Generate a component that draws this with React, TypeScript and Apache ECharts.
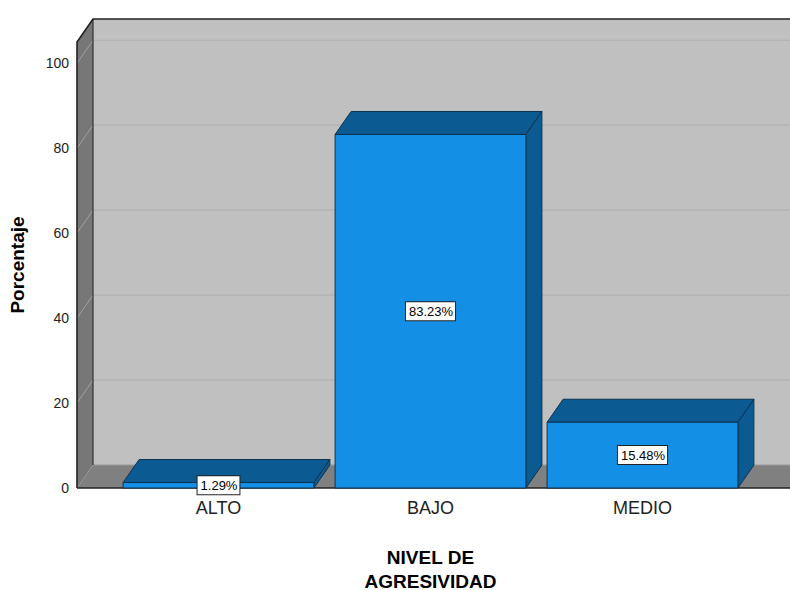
import React, { useEffect, useRef } from "react";
import * as echarts from "echarts";

// ---- data ----
const categories: string[] = ["ALTO", "BAJO", "MEDIO"];
const percentages: number[] = [1.29, 83.23, 15.48];
const yTicks: number[] = [0, 20, 40, 60, 80, 100];
const yMin = 0;
const yMax = 105;
const yInterval = 20;
const xAxisTitle = "NIVEL DE\nAGRESIVIDAD";
const yAxisTitle = "Porcentaje";

// ---- layout / style ----
const FONT = "'Liberation Sans', Arial, sans-serif";
const DX = 16;
const DY = -23;
const WALL_PAD_LEFT = 35.5; // distance from front-left wall edge to grid left
const PAGE_W = 790;

const WALL_BACK = "#c0c0c0";
const WALL_SIDE = "#777777";
const FLOOR = "#808080";
const GRID_BACK = "#b0b0b0";
const GRID_SIDE = "#a2a2a2";
const EDGE = "#222222";
const BAR_FRONT = "#1390e6";
const BAR_DARK = "#0b5a91";
const BAR_EDGE = "#0c3350";

export default function App() {
  const ref = useRef<HTMLDivElement>(null);

  useEffect(() => {
    if (!ref.current) return;
    const chart = echarts.init(ref.current, null, { renderer: "svg" });

    const decorRender = (params: any, api: any) => {
      const cs = params.coordSys;
      const y0 = api.coord([0, 0])[1];
      const yTop = cs.y;
      const L = cs.x - WALL_PAD_LEFT;
      const R = PAGE_W + 30;
      const children: any[] = [];
      children.push({
        type: "rect",
        shape: { x: L + DX, y: yTop + DY, width: R - (L + DX), height: y0 - yTop },
        style: { fill: WALL_BACK },
      });
      children.push({
        type: "polygon",
        shape: { points: [[L, y0], [L, yTop], [L + DX, yTop + DY], [L + DX, y0 + DY]] },
        style: { fill: WALL_SIDE },
      });
      children.push({
        type: "polygon",
        shape: { points: [[L, y0], [L + DX, y0 + DY], [R + DX, y0 + DY], [R, y0]] },
        style: { fill: FLOOR },
      });
      yTicks.forEach((v) => {
        if (v <= 0) return;
        const y = api.coord([0, v])[1];
        children.push({
          type: "line",
          shape: { x1: L + DX, y1: y + DY, x2: R, y2: y + DY },
          style: { stroke: GRID_BACK, lineWidth: 1.2 },
        });
        children.push({
          type: "line",
          shape: { x1: L, y1: y, x2: L + DX, y2: y + DY },
          style: { stroke: GRID_SIDE, lineWidth: 1 },
        });
      });
      children.push({
        type: "line",
        shape: { x1: L + DX, y1: y0 + DY, x2: R, y2: y0 + DY },
        style: { stroke: "#9a9a9a", lineWidth: 1 },
      });
      children.push({
        type: "line",
        shape: { x1: L + DX, y1: yTop + DY, x2: L + DX, y2: y0 + DY },
        style: { stroke: "#333", lineWidth: 1.2 },
      });
      children.push({
        type: "polyline",
        shape: { points: [[L, y0], [L, yTop], [L + DX, yTop + DY], [R, yTop + DY]] },
        style: { stroke: EDGE, lineWidth: 1.6, fill: "none" },
      });
      children.push({
        type: "line",
        shape: { x1: L, y1: y0, x2: R, y2: y0 },
        style: { stroke: EDGE, lineWidth: 1.6 },
      });
      return { type: "group", children };
    };

    const barRender = (params: any, api: any) => {
      const idx = api.value(0);
      const val = api.value(1);
      const [cx, yb] = api.coord([idx, 0]);
      const yt = api.coord([idx, val])[1];
      const w = api.size([1, 0])[0] * 0.9;
      const x0 = cx - w / 2;
      const x1 = cx + w / 2;
      return {
        type: "group",
        children: [
          {
            type: "polygon",
            shape: { points: [[x0, yt], [x0 + DX, yt + DY], [x1 + DX, yt + DY], [x1, yt]] },
            style: { fill: BAR_DARK, stroke: BAR_EDGE, lineWidth: 1 },
          },
          {
            type: "polygon",
            shape: { points: [[x1, yt], [x1 + DX, yt + DY], [x1 + DX, yb + DY], [x1, yb]] },
            style: { fill: BAR_DARK, stroke: BAR_EDGE, lineWidth: 1 },
          },
          {
            type: "rect",
            shape: { x: x0, y: yt, width: w, height: yb - yt },
            style: { fill: BAR_FRONT, stroke: BAR_EDGE, lineWidth: 1 },
          },
          {
            type: "text",
            z2: 10,
            style: {
              text: val.toFixed(2) + "%",
              x: cx,
              y: (yt + yb) / 2,
              align: "center",
              verticalAlign: "middle",
              font: `13px ${FONT}`,
              fill: "#000",
              backgroundColor: "#ffffff",
              borderColor: "#222",
              borderWidth: 1,
              padding: [3, 2, 2, 3],
            },
          },
        ],
      };
    };

    chart.setOption({
      animation: false,
      backgroundColor: "#ffffff",
      grid: {
        left: 112.5,
        top: 42,
        width: 636,
        height: 446,
        containLabel: false,
        outerBoundsMode: "none",
      },
      xAxis: {
        type: "category",
        data: categories,
        axisLine: { show: false },
        axisTick: { show: false },
        axisLabel: { fontFamily: FONT, fontSize: 18, color: "#222", margin: 11 },
        name: xAxisTitle,
        nameLocation: "middle",
        nameGap: 57,
        nameTextStyle: { fontFamily: FONT, fontSize: 19, fontWeight: "bold", color: "#000", lineHeight: 24 },
      },
      yAxis: {
        type: "value",
        min: yMin,
        max: yMax,
        interval: yInterval,
        offset: WALL_PAD_LEFT,
        axisLine: { show: false },
        axisTick: { show: false },
        splitLine: { show: false },
        axisLabel: {
          fontFamily: FONT,
          fontSize: 14,
          color: "#222",
          margin: 8,
          padding: [6, 0, 0, 0],
          formatter: (v: number) => (yTicks.includes(v) ? String(v) : ""),
        },
        name: yAxisTitle,
        nameLocation: "middle",
        nameGap: 50,
        nameTextStyle: { fontFamily: FONT, fontSize: 19, fontWeight: "bold", color: "#000" },
      },
      series: [
        {
          type: "custom",
          renderItem: decorRender,
          data: [[0, 0]],
          clip: false,
          silent: true,
          z: 1,
        },
        {
          type: "custom",
          renderItem: barRender,
          data: percentages.map((p, i) => [i, p]),
          clip: false,
          z: 5,
        },
      ],
    });

    return () => chart.dispose();
  }, []);

  return (
    <div
      ref={ref}
      style={{ position: "absolute", left: 0, top: 0, width: 790, height: 590, background: "#fff" }}
    />
  );
}
